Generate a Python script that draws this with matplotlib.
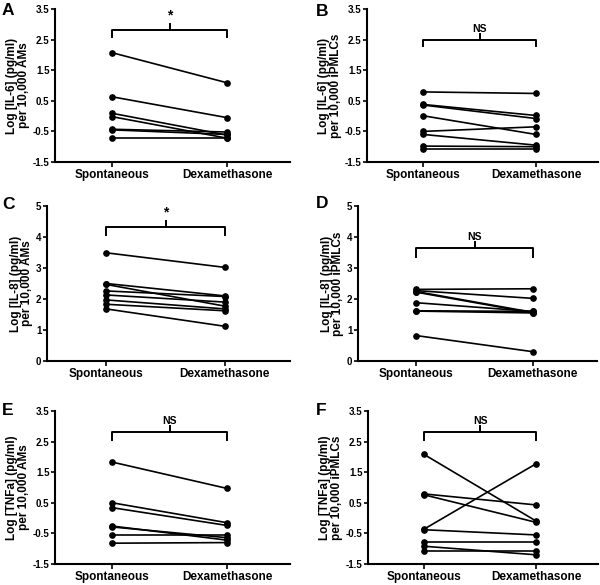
import matplotlib
matplotlib.use('Agg')
import matplotlib.pyplot as plt

plt.rcParams['font.family'] = ['Liberation Sans', 'DejaVu Sans']
plt.rcParams['font.weight'] = 'bold'

groups = ['Spontaneous', 'Dexamethasone']

# paired values (spontaneous, dexamethasone) per donor
il6_am_spont = [2.07, 0.63, 0.09, -0.02, -0.43, -0.45, -0.72]
il6_am_dex = [1.09, -0.05, -0.62, -0.72, -0.52, -0.60, -0.72]

il6_ipm_spont = [0.79, 0.38, 0.36, 0.01, -0.50, -0.60, -0.98, -1.06]
il6_ipm_dex = [0.74, 0.02, -0.08, -0.60, -0.35, -0.95, -1.00, -1.06]

il8_am_spont = [3.49, 2.50, 2.47, 2.26, 2.13, 1.97, 1.83, 1.68]
il8_am_dex = [3.02, 2.10, 1.77, 2.08, 1.90, 1.68, 1.62, 1.12]

il8_ipm_spont = [2.31, 2.27, 2.24, 2.22, 1.88, 1.62, 1.61, 0.82]
il8_ipm_dex = [2.33, 2.02, 1.57, 1.55, 1.60, 1.60, 1.55, 0.30]

tnf_am_spont = [1.83, 0.50, 0.34, -0.26, -0.29, -0.55, -0.82]
tnf_am_dex = [0.97, -0.15, -0.24, -0.72, -0.64, -0.55, -0.80]

tnf_ipm_spont = [2.08, 0.79, 0.76, -0.36, -0.38, -0.79, -0.92, -1.08]
tnf_ipm_dex = [-0.10, 0.43, -0.14, 1.78, -0.55, -0.79, -1.20, -1.08]

ticks_a = [-1.5, -0.5, 0.5, 1.5, 2.5, 3.5]
ticks_b = [0, 1, 2, 3, 4, 5]

panels = [
    ('A', il6_am_spont, il6_am_dex, 'Log [IL-6] (pg/ml)\nper 10,000 AMs', '*', (-1.5, 3.5), ticks_a, 2.8, 0.2),
    ('B', il6_ipm_spont, il6_ipm_dex, 'Log [IL-6] (pg/ml)\nper 10,000 iPMLCs', 'NS', (-1.5, 3.5), ticks_a, 2.48, 0.2),
    ('C', il8_am_spont, il8_am_dex, 'Log [IL-8] (pg/ml)\nper 10,000 AMs', '*', (0, 5), ticks_b, 4.33, 0.27),
    ('D', il8_ipm_spont, il8_ipm_dex, 'Log [IL-8] (pg/ml)\nper 10,000 iPMLCs', 'NS', (0, 5), ticks_b, 3.63, 0.27),
    ('E', tnf_am_spont, tnf_am_dex, 'Log [TNFa] (pg/ml)\nper 10,000 AMs', 'NS', (-1.5, 3.5), ticks_a, 2.82, 0.27),
    ('F', tnf_ipm_spont, tnf_ipm_dex, 'Log [TNFa] (pg/ml)\nper 10,000 iPMLCs', 'NS', (-1.5, 3.5), ticks_a, 2.82, 0.27),
]

# axes boxes in pixels: left, right, top, bottom ; letter x, y
boxes = [(55, 290, 9, 162), (367, 598, 9, 162),
         (47, 290, 206, 361), (358, 597, 206, 361),
         (55, 290, 411, 564), (368, 598, 411, 564)]
letters_xy = [(2, 3), (316, 4), (2, 197), (316, 196), (2, 403), (316, 403)]

W, H = 600, 585
fig = plt.figure(figsize=(6, 5.85), dpi=100)

for (letter, sp, dx, ylab, sig, ylim, yticks, by, drop), (l, r, t, b), (lx, ly) in zip(panels, boxes, letters_xy):
    ax = fig.add_axes([l / W, (H - b) / H, (r - l) / W, (b - t) / H])
    for s, d in zip(sp, dx):
        ax.plot([0, 1], [s, d], color='black', lw=1.2, marker='o', ms=3.8,
                clip_on=False, zorder=3)
    ax.set_xlim(-0.5, 1.55)
    ax.set_ylim(*ylim)
    ax.set_yticks(yticks)
    ax.set_yticklabels([('%g' % v) for v in yticks], fontsize=7, fontweight='bold')
    ax.set_xticks([0, 1])
    ax.set_xticklabels(groups, fontsize=8.5, fontweight='bold')
    ax.spines['top'].set_visible(False)
    ax.spines['right'].set_visible(False)
    ax.spines['left'].set_linewidth(1.5)
    ax.spines['bottom'].set_linewidth(1.5)
    ax.tick_params(axis='y', length=3, width=1.2, pad=1)
    ax.tick_params(axis='x', length=3.5, width=1.2, pad=1.5)
    ax.set_ylabel(ylab, fontsize=8.5, fontweight='bold', linespacing=0.95, labelpad=2)

    # significance bracket
    span = ylim[1] - ylim[0]
    ax.plot([0, 0, 1, 1], [by - drop, by, by, by - drop], color='black', lw=1.4, clip_on=False)
    ax.plot([0.5, 0.5], [by, by + 0.04 * span], color='black', lw=1.4, clip_on=False)
    if sig == '*':
        ax.text(0.5, by + 0.05 * span, '*', ha='center', va='bottom', fontsize=10, fontweight='bold')
    else:
        ax.text(0.5, by + 0.04 * span, 'NS', ha='center', va='bottom', fontsize=7.5, fontweight='bold')

    fig.text(lx / W, (H - ly) / H, letter, fontsize=12.5, fontweight='bold', va='top', ha='left')

fig.savefig('out.png', dpi=100)
